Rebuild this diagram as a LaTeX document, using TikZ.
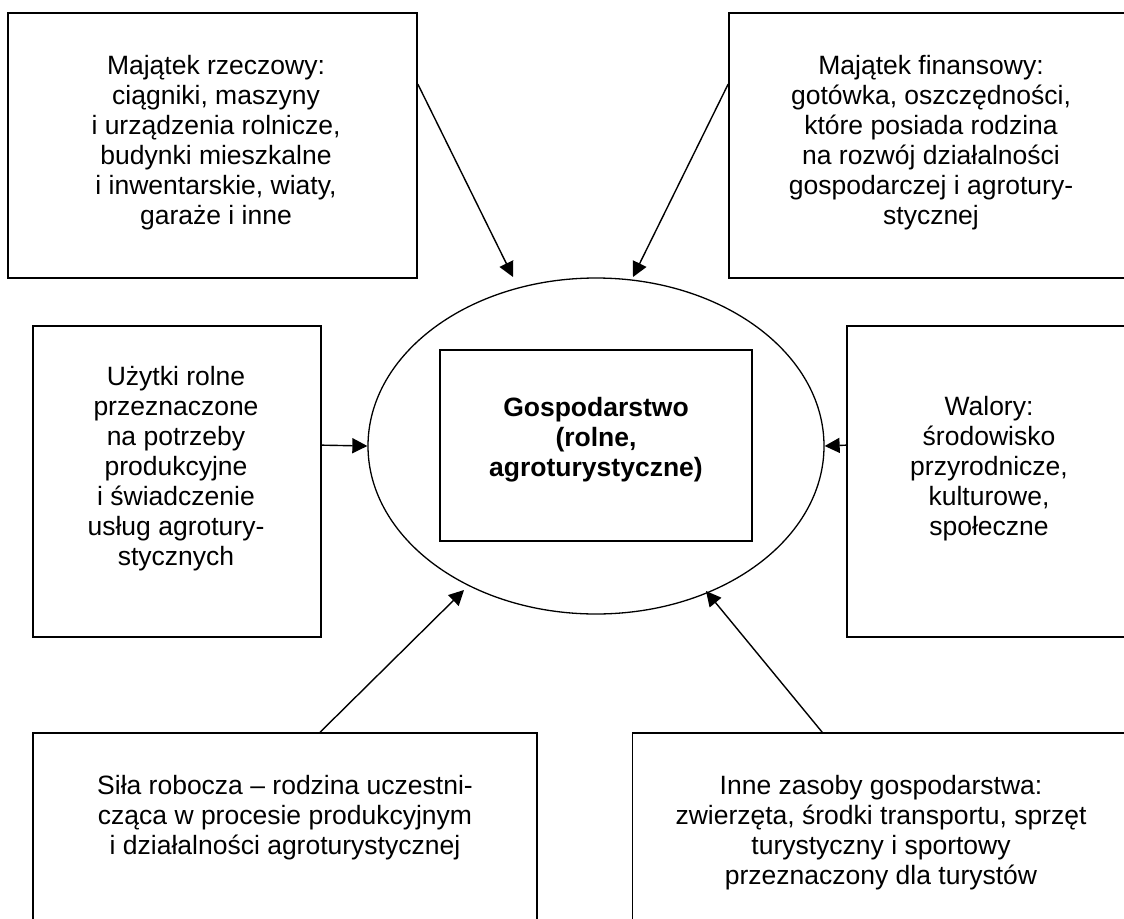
\documentclass[tikz,border=0pt]{standalone}
\usepackage{fontspec}
\setmainfont{Liberation Sans}
\usetikzlibrary{arrows.meta,shapes.geometric}
\begin{document}
\begin{tikzpicture}[x=1pt,y=-1pt,
  box/.style={draw, rectangle, line width=1.7pt, inner sep=0pt},
  lbl/.style={inner sep=0pt, anchor=north, align=center, font=\fontsize{26.5}{30}\selectfont},
  arr/.style={line width=1.4pt, -{Triangle[length=15pt,width=15pt]}}]
\useasboundingbox (0,0) rectangle (1124,918);
\clip (0,0) rectangle (1124,918);
\fill[white] (0,0) rectangle (1124,918);

% boxes
\node[box, minimum width=409pt, minimum height=265pt] (tl) at (212.5,145.5) {};
\node[box, minimum width=401pt, minimum height=265pt] (tr) at (929.5,145.5) {};
\node[box, minimum width=288pt, minimum height=311pt] (ml) at (177,481.5) {};
\node[box, minimum width=283pt, minimum height=311pt] (mr) at (988.5,481.5) {};
\node[box, minimum width=504pt, minimum height=192pt] (bl) at (285,829) {};
\node[box, minimum width=497.5pt, minimum height=192pt] (br) at (881.25,829) {};

% centre
\node[draw, ellipse, line width=1.3pt, minimum width=456pt, minimum height=336pt, inner sep=0pt] (ell) at (596,446) {};
\node[box, line width=1.6pt, minimum width=312pt, minimum height=191pt] (inner) at (596,445.5) {};

% labels
\node[lbl] (tltxt) at (216,48) {\rule{0pt}{26pt}Majątek rzeczowy:\\ciągniki, maszyny\\ i urządzenia rolnicze,\\budynki mieszkalne\\i inwentarskie, wiaty,\\garaże i inne};
\node[lbl] (trtxt) at (931,48) {\rule{0pt}{26pt}Majątek finansowy:\\gotówka, oszczędności,\\które posiada rodzina\\na rozwój działalności\\gospodarczej i agrotury-\\stycznej};
\node[lbl] (mltxt) at (176,359) {\rule{0pt}{26pt}Użytki rolne\\przeznaczone\\na potrzeby\\produkcyjne\\i świadczenie\\usług agrotury-\\stycznych};
\node[lbl] (mrtxt) at (989,389) {\rule{0pt}{26pt}Walory:\\środowisko\\przyrodnicze,\\kulturowe,\\społeczne};
\node[lbl, font=\fontsize{26.5}{30}\selectfont\bfseries] (intxt) at (596,390) {\rule{0pt}{26pt}Gospodarstwo\\(rolne,\\agroturystyczne)};
\node[lbl] (bltxt) at (285,768) {\rule{0pt}{26pt}Siła robocza – rodzina uczestni-\\cząca w procesie produkcyjnym\\i działalności agroturystycznej};
\node[lbl] (brtxt) at (881,768) {\rule{0pt}{26pt}Inne zasoby gospodarstwa:\\zwierzęta, środki transportu, sprzęt\\turystyczny i sportowy\\przeznaczony dla turystów};

% arrow ends
\coordinate (tltip) at (513,277);
\coordinate (trtip) at (633,277);
\coordinate (bltip) at (464,590);
\coordinate (brtip) at (706,591);

% connectors
\draw[arr] ([yshift=-72pt]tl.north east) -- (tltip);
\draw[arr] ([yshift=-72pt]tr.north west) -- (trtip);
\draw[arr] ([yshift=-120pt]ml.north east) -- (ell.west);
\draw[arr] ([yshift=-120pt]mr.north west) -- (ell.east);
\draw[arr] ([xshift=288pt]bl.north west) -- (bltip);
\draw[arr] ([xshift=190.5pt]br.north west) -- (brtip);
\end{tikzpicture}
\end{document}
